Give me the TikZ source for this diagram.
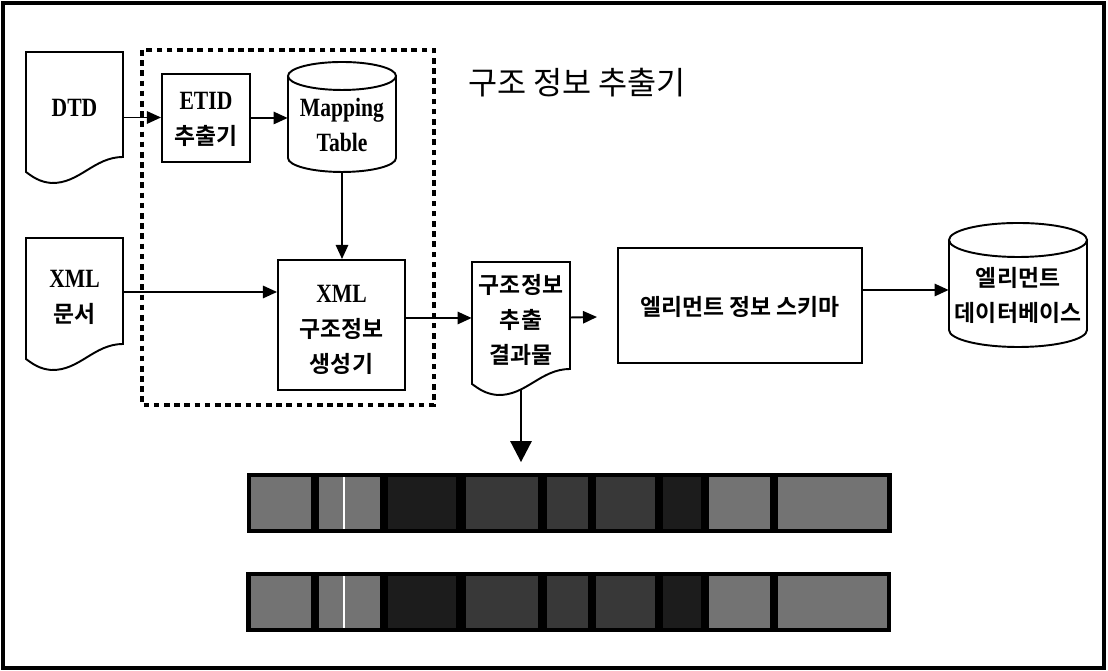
\documentclass[tikz,border=0pt]{standalone}
\usepackage{fontspec}
\setmainfont{Liberation Serif}[FakeStretch=0.82]
\newfontfamily\kr{Noto Sans CJK KR}[BoldFont={Noto Sans CJK KR Bold}]
\newcommand\krt{\kr\fontsize{13}{19.8}\selectfont}
\usepackage{tikz}
\usetikzlibrary{arrows.meta}

\definecolor{celllight}{gray}{0.45}
\definecolor{cellmid}{gray}{0.22}
\definecolor{celldark}{gray}{0.11}

\tikzset{
  box/.style={draw, line width=1.1pt, inner sep=0pt},
  hole/.style={inner sep=0pt},
  lbl/.style={align=center, font=\bfseries\fontsize{15}{19.8}\selectfont},
  kl/.style={lbl, font=\bfseries\krt},
  arr/.style={-{Triangle[length=8pt,width=7pt]}, line width=1.1pt},
  bigarr/.style={-{Triangle[length=12pt,width=12pt]}, line width=1.6pt},
}

% document outline: x1, x2, top, trough
\newcommand\docshape[4]{%
  \draw [line width=1.1pt] (#1,#3) -- (#2,#3) -- (#2,{#4+26})
    .. controls ({#1+0.7*(#2-#1)},{#4+26}) and ({#1+0.55*(#2-#1)},{#4-1}) .. ({#1+0.26*(#2-#1)},#4)
    .. controls ({#1+0.14*(#2-#1)},{#4+1}) and ({#1+0.07*(#2-#1)},{#4+6}) .. (#1,{#4+11}) -- cycle;}

% one row of table cells: bottom, top
\newcommand\cellrow[2]{%
  \fill [celllight] (251,#1) rectangle (311,#2);
  \fill [celllight] (319,#1) rectangle (380,#2);
  \fill [celldark] (388,#1) rectangle (456,#2);
  \fill [cellmid] (466,#1) rectangle (538,#2);
  \fill [cellmid] (547,#1) rectangle (588,#2);
  \fill [cellmid] (596,#1) rectangle (655,#2);
  \fill [celldark] (663,#1) rectangle (701,#2);
  \fill [celllight] (709,#1) rectangle (770,#2);
  \fill [celllight] (778,#1) rectangle (887,#2);
  \draw [white, line width=0.6pt] (344,#1) -- (344,#2);}

\begin{document}
\begin{tikzpicture}[x=0.02cm, y=0.02cm]
  \useasboundingbox (0,0) rectangle (1108,671);
  \draw [line width=2.2pt] (3,3) rectangle (1104,668);

  \draw [line width=2.8pt, dash pattern=on 3.2pt off 2.6pt] (142,621) rectangle (434,266);
  \node (title) [anchor=west] at (462,588) {\kr\fontsize{18}{20}\selectfont 구조 정보 추출기};

  % input documents
  \docshape{26}{123}{619}{488}
  \node [hole, minimum width=1.94cm, minimum height=2.62cm] (dtd) at (74.5,553.5) {};
  \node [lbl] (dtdlbl) at (74.5,563) {DTD};

  \docshape{26}{123}{433}{301}
  \node [hole, minimum width=1.94cm, minimum height=2.64cm] (xmldoc) at (74.5,367) {};
  \node [lbl] (xmllbl) at (74.5,373.5) {XML\\{\krt 문서}};

  % extractor
  \node [box, minimum width=1.76cm, minimum height=1.76cm] (etid) at (206,553) {};
  \node [lbl] (etidlbl) at (206,551.5) {ETID\\{\krt 추출기}};

  \draw [line width=1.1pt] (288,595) -- (288,513) arc [start angle=180, end angle=360, x radius=54, y radius=14] -- (396,595);
  \draw [line width=1.1pt] (342,595) ellipse [x radius=54, y radius=14];
  \node [hole, minimum width=2.16cm, minimum height=2.2cm] (map) at (342,554) {};
  \node [lbl] (maplbl) at (342,546) {Mapping\\Table};

  \node [box, minimum width=2.54cm, minimum height=2.6cm] (gen) at (341.5,346) {};
  \node [lbl] (genlbl) at (341.5,341) {XML\\{\krt 구조정보}\\{\krt 생성기}};

  % result and schema
  \docshape{472}{570}{409}{276}
  \node [hole, minimum width=1.96cm, minimum height=2.66cm] (res) at (521,342.5) {};
  \node [kl] (reslbl) at (521,351) {구조정보\\추출\\결과물};

  \node [box, minimum width=4.88cm, minimum height=2.3cm] (schema) at (740,365.5) {};
  \node [kl] (schemalbl) at (740,364) {엘리먼트 정보 스키마};

  \draw [line width=1.1pt] (949,431) -- (949,341) arc [start angle=180, end angle=360, x radius=69, y radius=17] -- (1087,431);
  \draw [line width=1.1pt] (1018,431) ellipse [x radius=69, y radius=17];
  \node [hole, minimum width=2.76cm, minimum height=2.48cm] (db) at (1018,386) {};
  \node [kl] (dblbl) at (1018,375.5) {엘리먼트\\데이터베이스};

  % result tables
  \node [hole, fill=black, minimum width=12.9cm, minimum height=1.2cm] (tbl1) at (569.5,168) {};
  \cellrow{142}{194}
  \node [hole, fill=black, minimum width=12.9cm, minimum height=1.2cm] (tbl2) at (568.5,69) {};
  \cellrow{43}{95}

  % connectors
  \draw [arr] (dtd.east) -- (dtd.east -| etid.west);
  \draw [arr] (etid.east) -- (etid.east -| map.west);
  \draw [arr] (map.south) -- (map.south |- gen.north);
  \draw [arr] ([yshift=0.24cm]xmldoc.east) -- ([yshift=0.24cm]xmldoc.east -| gen.west);
  \draw [arr] ([yshift=0.14cm]gen.east) -- ([yshift=0.14cm]gen.east -| res.west);
  \coordinate (resout) at (597,354);
  \draw [arr] ([yshift=0.22cm]res.east) -- (resout);
  \draw [arr] ([yshift=-0.1cm]schema.east |- db.west) -- ([yshift=-0.1cm]db.west);
  \draw [bigarr, shorten >=6pt] ([yshift=0.12cm]res.south) -- (res.south |- tbl1.north);
\end{tikzpicture}
\end{document}
